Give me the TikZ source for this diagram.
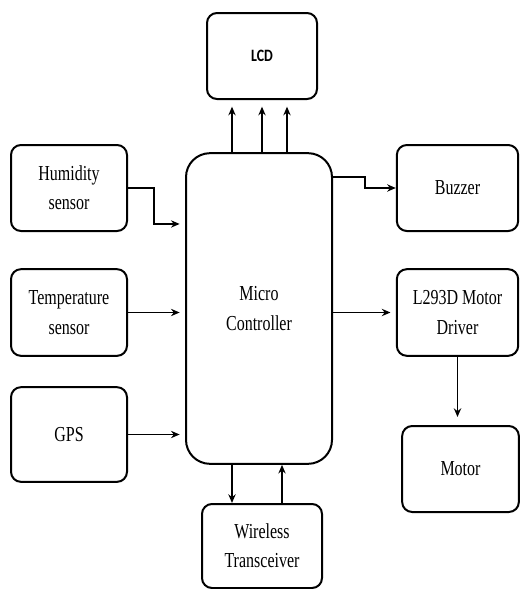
\documentclass[tikz,border=0pt]{standalone}
\usepackage{fontspec}
\setmainfont[FakeStretch=0.75]{Liberation Serif}
\newfontfamily\lcdfont[FakeStretch=0.8]{Carlito}
\usetikzlibrary{arrows.meta}

\begin{document}
\begin{tikzpicture}[x=0.75pt,y=-0.75pt,
    blk/.style={draw,line width=1.5pt,rounded corners=7.5pt,align=center,inner sep=0pt,
      font=\rmfamily\fontsize{16}{22}\selectfont},
    arr/.style={line width=1.4pt,-{Stealth[length=6.5pt,width=5.5pt]}}]
        \useasboundingbox (0,0) rectangle (519,589);
        \node[blk,minimum width=82.5pt,minimum height=64.5pt,font=\lcdfont\bfseries\fontsize{13}{15}\selectfont] (lcd) at (262,56) {LCD};
        \node[blk,minimum width=109.5pt,minimum height=233pt,rounded corners=18pt] (mc) at (259,308.5) {Micro\\Controller};
        \node[blk,minimum width=87pt,minimum height=64.5pt] (hum) at (69,188) {Humidity\\sensor};
        \node[blk,minimum width=87pt,minimum height=65pt] (temp) at (69,312.5) {Temperature\\sensor};
        \node[blk,minimum width=87pt,minimum height=71pt] (gps) at (69,434.5) {GPS};
        \node[blk,minimum width=91pt,minimum height=64.5pt] (buz) at (457.5,188) {Buzzer};
        \node[blk,minimum width=91pt,minimum height=65pt] (drv) at (457.5,312.5) {L293D Motor\\Driver};
        \node[blk,minimum width=87.5pt,minimum height=64.5pt] (motor) at (460.5,469) {Motor};
        \node[blk,minimum width=90pt,minimum height=63pt] (wl) at (262,546) {Wireless\\Transceiver};
        \foreach \dx in {-22.5,0,18.75}
          \draw[arr,shorten >=5pt] ([xshift=\dx pt]lcd.south |- mc.north) -- ([xshift=\dx pt]lcd.south);
        \draw[arr,shorten >=4pt] (hum.east) -- ++(26,0) |- ([yshift=63.4pt]mc.west);
        \draw[arr,shorten >=4pt] (temp.east) -- (mc.west |- temp.east);
        \draw[arr,shorten >=4pt] (gps.east) -- (mc.west |- gps.east);
        \draw[arr] ([yshift=98.6pt]mc.east) -- ++(32,0) |- (buz.west);
        \draw[arr,shorten >=4pt] (mc.east |- drv.west) -- (drv.west);
        \draw[arr,shorten >=6pt] (drv.south) -- (drv.south |- motor.north);
        \draw[arr] ([xshift=-22.5pt]wl.north |- mc.south) -- ([xshift=-22.5pt]wl.north);
        \draw[arr] ([xshift=15pt]wl.north) -- ([xshift=15pt]wl.north |- mc.south);
\end{tikzpicture}
\end{document}
